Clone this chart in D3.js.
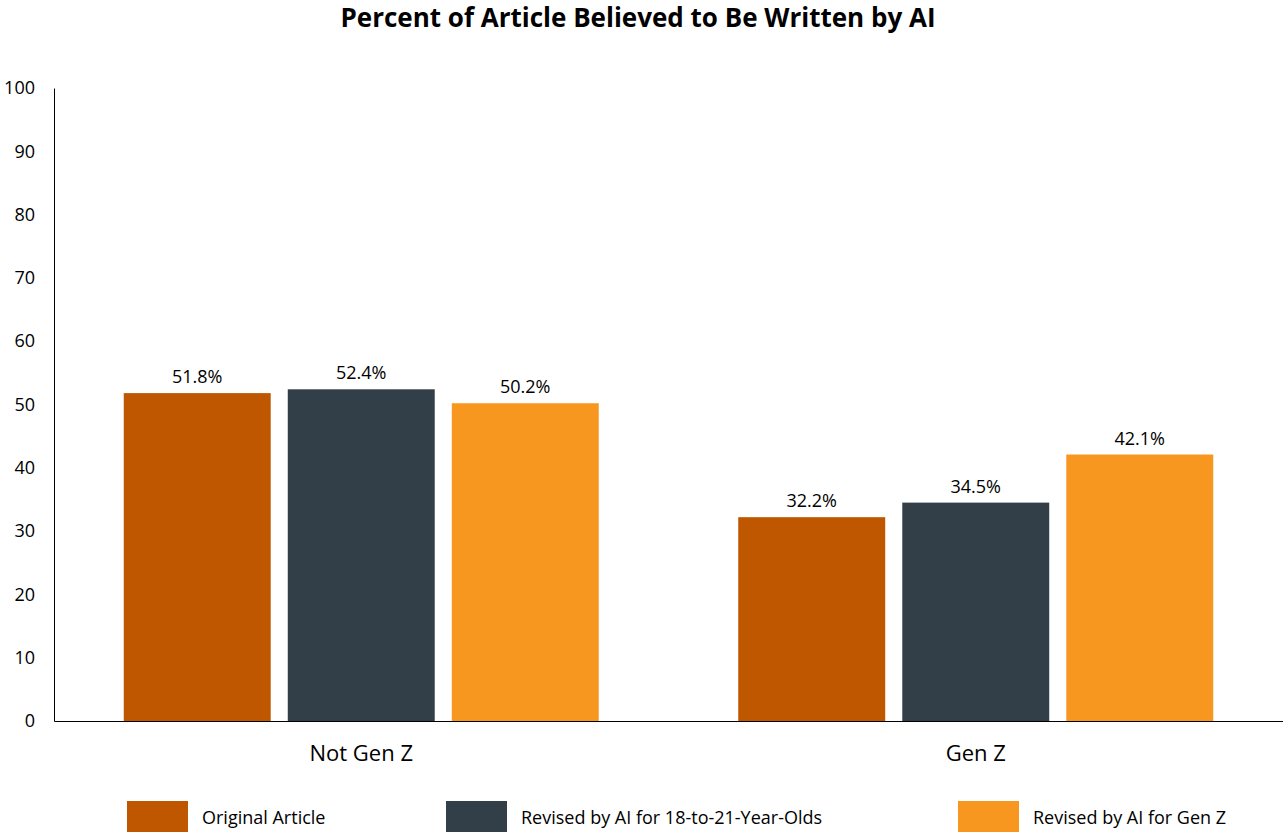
<!DOCTYPE html>
<html><head><meta charset="utf-8">
<script src="https://cdn.jsdelivr.net/npm/d3@7"></script>
<style>body{margin:0;background:#fff}svg{font-family:"Open Sans",sans-serif}</style>
</head><body><svg width="1283" height="834"></svg>
<script>
const groups=["Not Gen Z","Gen Z"];
const seriesNames=["Original Article","Revised by AI for 18-to-21-Year-Olds","Revised by AI for Gen Z"];
const original=[51.8,32.2];
const revised1821=[52.4,34.5];
const revisedGenZ=[50.2,42.1];
const colors=["#BF5700","#333F48","#F8971F"];
const yTicks=[0,10,20,30,40,50,60,70,80,90,100];
const seriesVals=[original,revised1821,revisedGenZ];
const svg=d3.select("svg");
const y=d3.scaleLinear().domain([0,100]).range([721,88]);
const x0=d3.scaleBand().domain(groups).range([54,1283]);
const x1=d3.scaleBand().domain(seriesNames).range([0,475]).paddingInner(0.104);
const off=(x0.bandwidth()-475)/2;

svg.append("text").attr("x",638).attr("y",27).attr("text-anchor","middle")
  .attr("font-size",26).attr("font-weight","bold").attr("fill","#000")
  .text("Percent of Article Believed to Be Written by AI");

// y axis
const ya=svg.append("g").attr("transform","translate(54,0)")
  .call(d3.axisLeft(y).tickValues(yTicks).tickSize(0).tickPadding(19));
ya.select(".domain").attr("stroke","#000");
ya.selectAll("text").attr("font-size",18).attr("fill","#000").attr("font-family","Open Sans");

// x axis
const xa=svg.append("g").attr("transform","translate(0,721)")
  .call(d3.axisBottom(x0).tickSize(0).tickPadding(24));
xa.select(".domain").attr("stroke","#000");
xa.selectAll("text").attr("font-size",22).attr("fill","#000").attr("font-family","Open Sans");

groups.forEach((g,gi)=>{
  seriesNames.forEach((s,si)=>{
    const v=seriesVals[si][gi];
    const bx=x0(g)+off+x1(s);
    svg.append("rect").attr("x",bx).attr("width",x1.bandwidth())
      .attr("y",y(v)).attr("height",y(0)-y(v)).attr("fill",colors[si]);
    svg.append("text").attr("x",bx+x1.bandwidth()/2).attr("y",y(v)-10)
      .attr("text-anchor","middle").attr("font-size",18).attr("fill","#000")
      .text(v.toFixed(1)+"%");
  });
});

// legend
const legX=[127,446,958];
seriesNames.forEach((s,i)=>{
  svg.append("rect").attr("x",legX[i]).attr("y",801).attr("width",61).attr("height",31).attr("fill",colors[i]);
  svg.append("text").attr("x",legX[i]+75).attr("y",824).attr("font-size",18).attr("fill","#000").text(s);
});
</script></body></html>
